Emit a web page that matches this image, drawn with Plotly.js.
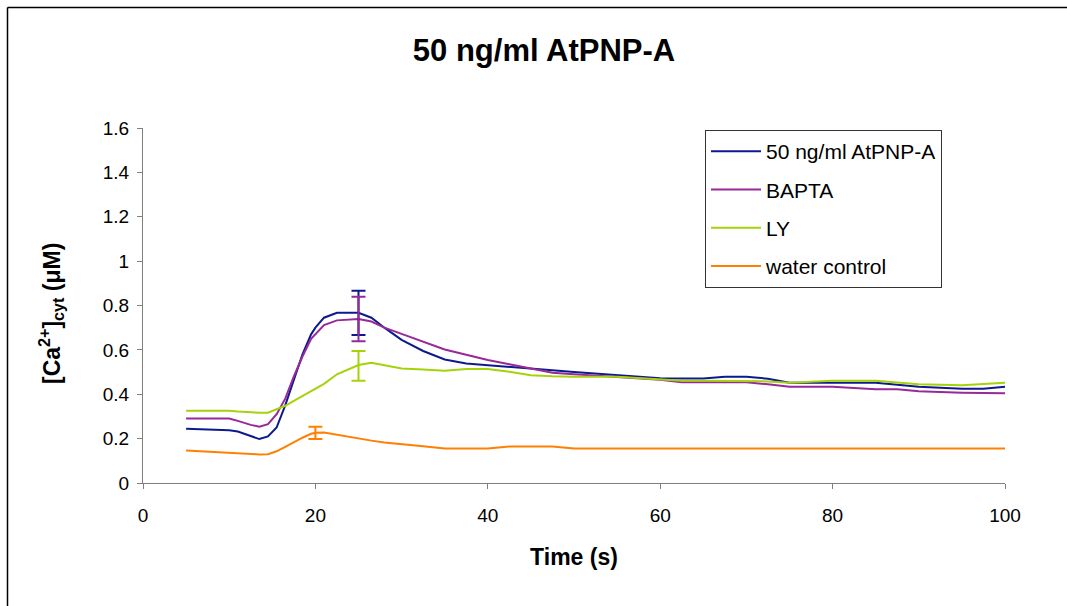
<!DOCTYPE html>
<html>
<head>
<meta charset="utf-8">
<script src="https://cdn.plot.ly/plotly-3.0.1.min.js"></script>
<style>html,body{margin:0;padding:0;background:#fff;}#chart{width:1067px;height:606px;}</style>
</head>
<body>
<div id="chart"></div>
<script>
const time = [5, 7.5, 10, 11, 12.5, 13.5, 14.5, 15.5, 16.5, 17.5, 18.5, 19.5, 20, 21, 22.5, 25, 26.5, 28, 30, 32.5, 35, 37.5, 40, 42.5, 45, 47.5, 50, 55, 60, 62.5, 65, 67.5, 70, 72.5, 75, 80, 85, 87.5, 90, 95, 97.5, 100];

const atpnp = [0.245, 0.242, 0.238, 0.232, 0.21, 0.198, 0.21, 0.25, 0.35, 0.47, 0.58, 0.67, 0.70, 0.745, 0.767, 0.767, 0.745, 0.70, 0.645, 0.595, 0.557, 0.539, 0.532, 0.525, 0.517, 0.508, 0.50, 0.487, 0.472, 0.471, 0.471, 0.479, 0.479, 0.47, 0.452, 0.452, 0.452, 0.443, 0.434, 0.425, 0.425, 0.434];

const bapta = [0.291, 0.291, 0.291, 0.28, 0.262, 0.254, 0.265, 0.31, 0.38, 0.48, 0.57, 0.65, 0.67, 0.712, 0.733, 0.739, 0.728, 0.70, 0.672, 0.637, 0.602, 0.578, 0.554, 0.535, 0.515, 0.497, 0.49, 0.479, 0.465, 0.454, 0.454, 0.454, 0.454, 0.445, 0.434, 0.434, 0.423, 0.423, 0.414, 0.407, 0.405, 0.404];

const ly = [0.326, 0.326, 0.326, 0.322, 0.318, 0.317, 0.317, 0.332, 0.348, 0.37, 0.393, 0.415, 0.425, 0.447, 0.49, 0.532, 0.542, 0.53, 0.516, 0.511, 0.506, 0.514, 0.514, 0.501, 0.486, 0.481, 0.479, 0.479, 0.467, 0.461, 0.461, 0.461, 0.461, 0.458, 0.452, 0.461, 0.461, 0.453, 0.445, 0.441, 0.446, 0.452];

const water = [0.146, 0.141, 0.137, 0.134, 0.129, 0.129, 0.13, 0.143, 0.163, 0.185, 0.204, 0.222, 0.226, 0.228, 0.217, 0.202, 0.191, 0.183, 0.174, 0.166, 0.155, 0.155, 0.155, 0.164, 0.164, 0.164, 0.155, 0.155, 0.154, 0.155, 0.155, 0.155, 0.154, 0.155, 0.154, 0.155, 0.154, 0.155, 0.155, 0.154, 0.155, 0.155];

const seriesNames = ["50 ng/ml AtPNP-A", "BAPTA", "LY", "water control"];
const seriesColors = ["#0d1a8f", "#97299a", "#a6d20a", "#ff8000"];

// error bars: one point per series
const errTime = [25, 25, 25, 20];
const errMean = [0.767, 0.739, 0.528, 0.226];
const errSize = [0.10, 0.10, 0.067, 0.028];

const xTicks = [0, 20, 40, 60, 80, 100];

const seriesData = [atpnp, bapta, ly, water];
const traces = [];
seriesData.forEach((ys, i) => {
  traces.push({
    x: time, y: ys, type: 'scatter', mode: 'lines',
    name: seriesNames[i], legendgroup: 'g' + i,
    line: {color: seriesColors[i], width: 2},
    hoverinfo: 'skip'
  });
});
errTime.forEach((t, i) => {
  traces.push({
    x: [t], y: [errMean[i]], type: 'scatter', mode: 'markers',
    marker: {size: 1, color: 'rgba(0,0,0,0)'},
    showlegend: false, hoverinfo: 'skip',
    error_y: {type: 'data', array: [errSize[i]], visible: true, color: seriesColors[i], thickness: 2, width: 7}
  });
});

const W = 1067, H = 606, L = 143, R = 62, T = 128, B = 123;
const pw = W - L - R, ph = H - T - B;
const px = v => (v - L) / pw;
const py = v => (H - B - v) / ph;

const layout = {
  width: W, height: H,
  margin: {l: L, r: R, t: T, b: B, pad: 0},
  paper_bgcolor: '#fff', plot_bgcolor: '#fff',
  font: {family: 'Liberation Sans, Arial, sans-serif', color: '#000'},
  title: {text: '<b>50 ng/ml AtPNP-A</b>', font: {size: 31, color: '#000'}, x: px(544), xref: 'paper', xanchor: 'center', y: 1 - 50 / H, yanchor: 'middle'},
  xaxis: {
    range: [0, 100], tickvals: xTicks, ticktext: xTicks.map(String),
    showgrid: false, zeroline: false, showline: true, linecolor: '#7f7f7f', linewidth: 1,
    ticks: 'outside', ticklen: 5, tickcolor: '#7f7f7f', ticklabelstandoff: 10,
    tickfont: {size: 19, color: '#000'},
    title: {text: '<b>Time (s)</b>', font: {size: 23, color: '#000'}, standoff: 24}
  },
  yaxis: {
    range: [0, 1.6], dtick: 0.2, tick0: 0,
    showgrid: false, zeroline: false, showline: true, linecolor: '#7f7f7f', linewidth: 1,
    ticks: 'outside', ticklen: 5, tickcolor: '#7f7f7f', ticklabelstandoff: 4,
    tickfont: {size: 19, color: '#000'}
  },
  legend: {
    x: px(705), y: py(130), xanchor: 'left', yanchor: 'top',
    bordercolor: '#333', borderwidth: 1, bgcolor: '#fff',
    font: {size: 21, color: '#000'},
    traceorder: 'grouped', tracegroupgap: 8, itemwidth: 50
  },
  annotations: [{
    text: '<b>[Ca<sup>2+</sup>]<sub>cyt</sub> (μM)</b>', textangle: -90,
    xref: 'paper', yref: 'paper', x: px(51), y: py(314), xanchor: 'center', yanchor: 'middle',
    showarrow: false, font: {size: 23, color: '#000'}
  }],
  shapes: [
    {type: 'line', xref: 'paper', yref: 'paper', x0: px(7.5), x1: px(7.5), y0: py(H + 5), y1: py(7.5), line: {color: '#000', width: 1.5}},
    {type: 'line', xref: 'paper', yref: 'paper', x0: px(7.5), x1: px(W + 5), y0: py(7.5), y1: py(7.5), line: {color: '#000', width: 1.5}}
  ],
  showlegend: true
};

Plotly.newPlot('chart', traces, layout, {displayModeBar: false, staticPlot: true});
</script>
</body>
</html>
